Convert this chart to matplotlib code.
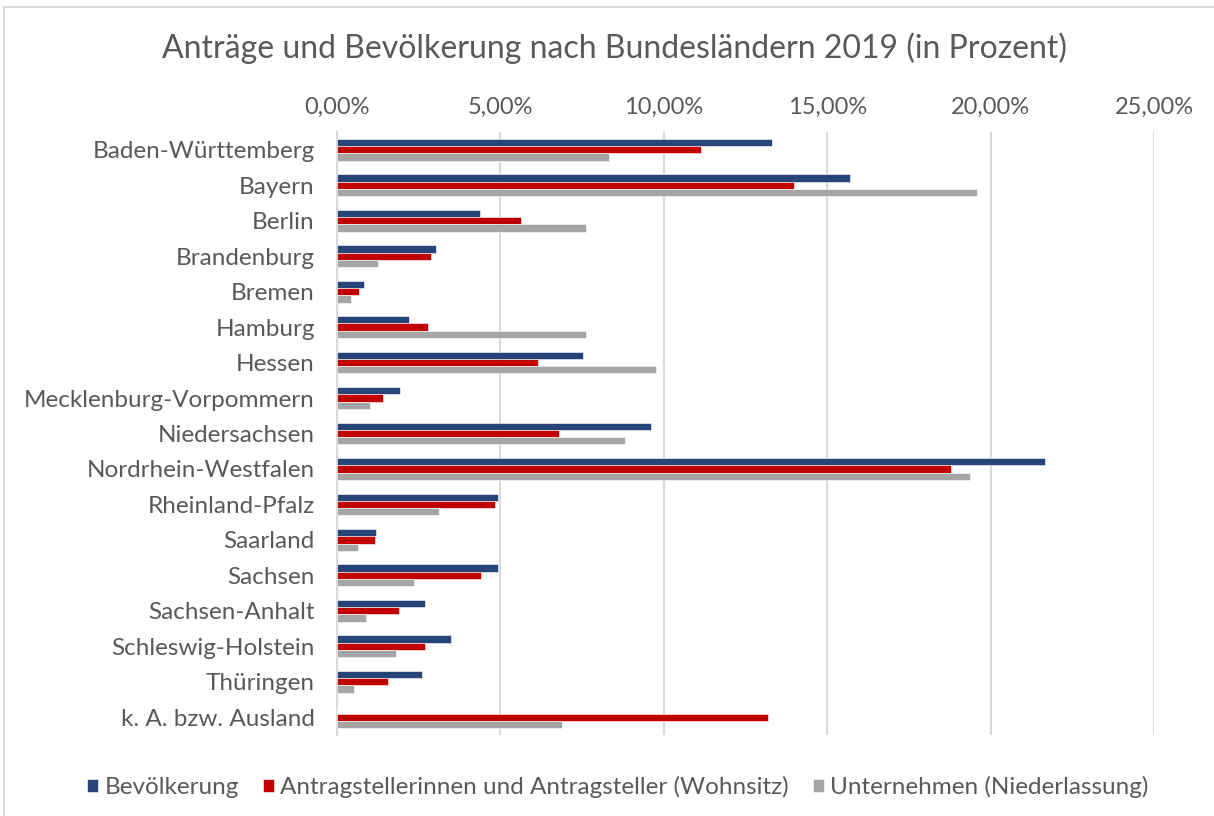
import numpy as np
import matplotlib.pyplot as plt
from matplotlib.ticker import FuncFormatter

plt.rcParams['font.family'] = ['Lato', 'DejaVu Sans']

laender = ['Baden-Württemberg', 'Bayern', 'Berlin', 'Brandenburg', 'Bremen',
           'Hamburg', 'Hessen', 'Mecklenburg-Vorpommern', 'Niedersachsen',
           'Nordrhein-Westfalen', 'Rheinland-Pfalz', 'Saarland', 'Sachsen',
           'Sachsen-Anhalt', 'Schleswig-Holstein', 'Thüringen', 'k. A. bzw. Ausland']

bevoelkerung = [13.32, 15.71, 4.37, 3.02, 0.82, 2.21, 7.54, 1.94, 9.62,
                21.66, 4.92, 1.20, 4.93, 2.68, 3.49, 2.59, 0.0]
antragsteller = [11.15, 13.99, 5.62, 2.89, 0.68, 2.79, 6.16, 1.42, 6.80,
                 18.78, 4.84, 1.17, 4.40, 1.91, 2.69, 1.56, 13.19]
unternehmen = [8.31, 19.58, 7.62, 1.26, 0.44, 7.62, 9.77, 1.02, 8.81,
               19.38, 3.13, 0.63, 2.35, 0.88, 1.82, 0.53, 6.89]

serien = ['Bevölkerung', 'Antragstellerinnen und Antragsteller (Wohnsitz)',
          'Unternehmen (Niederlassung)']
farben = ['#264478', '#C00000', '#A5A5A5']
textfarbe = '#595959'

fig = plt.figure(figsize=(12.14, 8.16), dpi=100)
ax = fig.add_axes([337/1214, 1-735/816, (1154-337)/1214, (735-132)/816])

y = np.arange(len(laender))
h = 0.205
for i, (werte, name, farbe) in enumerate(zip([bevoelkerung, antragsteller, unternehmen], serien, farben)):
    ax.barh(y + (i - 1) * h, werte, height=h, color=farbe, label=name,
            edgecolor='white', linewidth=0.4, zorder=3)

ax.set_xlim(0, 25)
ax.set_ylim(len(laender) - 0.5, -0.5)
ax.set_yticks(y)
ax.set_yticklabels(laender, fontsize=17.5, color=textfarbe)
ax.set_xticks(np.arange(0, 26, 5))
ax.xaxis.set_major_formatter(FuncFormatter(lambda v, p: f'{v:.2f}%'.replace('.', ',')))
ax.xaxis.tick_top()
ax.tick_params(axis='x', labelsize=17, colors=textfarbe, length=0, pad=10)
ax.tick_params(axis='y', length=0, pad=16)
ax.grid(axis='x', color='#D9D9D9', linewidth=1.5, zorder=0)
for s in ['top', 'right', 'bottom']:
    ax.spines[s].set_visible(False)
ax.spines['left'].set_color('#D9D9D9')
ax.spines['left'].set_linewidth(1.5)

fig.text(614/1214, 1 - 48/816, 'Anträge und Bevölkerung nach Bundesländern 2019 (in Prozent)',
         ha='center', va='center', fontsize=23, color=textfarbe)

fig.legend(loc='center', bbox_to_anchor=(618/1214, 1 - 787/816), ncol=3, frameon=False,
           fontsize=17.5, labelcolor=textfarbe, handlelength=0.45, handleheight=0.45,
           handletextpad=0.25, columnspacing=1.0)

# Rahmen
fig.add_artist(plt.Line2D([4/1214, 4/1214], [0, 1 - 7/816], color='#D9D9D9', lw=1.5))
fig.add_artist(plt.Line2D([4/1214, 1], [1 - 7/816, 1 - 7/816], color='#D9D9D9', lw=1.5))

plt.savefig('out.png', dpi=100)
